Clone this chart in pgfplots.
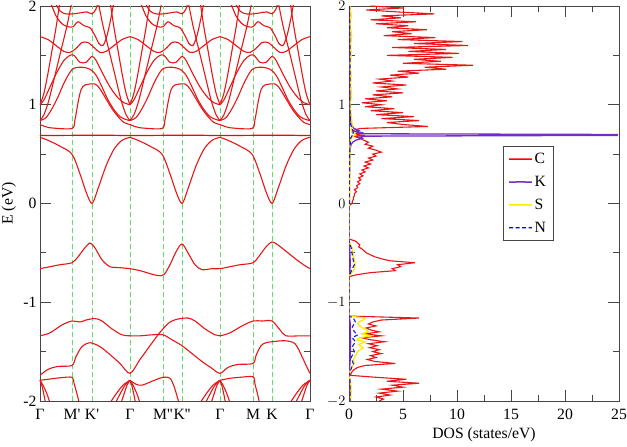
\documentclass[border=0pt]{standalone}
\usepackage{pgfplots}
\usepackage{pgfplotstable}
\pgfplotsset{compat=1.18}
\usepackage{fontspec}
\setmainfont{Liberation Serif}
\newfontfamily\lbl{Liberation Serif}
\definecolor{bandred}{RGB}{232,22,22}
\definecolor{kpurple}{RGB}{118,42,204}
\definecolor{syellow}{RGB}{255,236,0}
\definecolor{nblue}{RGB}{25,25,225}
\definecolor{gridgreen}{RGB}{95,222,95}
\definecolor{axgray}{RGB}{70,70,70}

% ---------- periodic conduction bands (one period: Gamma=0, M=32, K=52, Gamma=90)
\pgfplotstableread{
x y
0 0.688
30 0.690
60 0.692
90 0.688
}\cflat
\pgfplotstableread{
x y
0 0.67
8 0.64
20 0.58
32 0.50
40 0.30
46 0.12
52 0.00
58 0.15
66 0.38
74 0.55
82 0.64
90 0.67
}\cone
\pgfplotstableread{
x y
0 0.80
5 0.78
12 0.765
32 0.76
35 0.85
38 1.02
41 1.15
45 1.20
55 1.21
60 1.16
66 1.06
72 0.96
78 0.88
84 0.82
90 0.80
}\ctwo
\pgfplotstableread{
x y
0 0.84
6 0.87
12 0.96
18 1.08
24 1.22
30 1.33
34 1.37
42 1.38
50 1.36
56 1.30
62 1.18
68 1.05
74 0.95
80 0.88
86 0.85
90 0.84
}\cthree
\pgfplotstableread{
x y
0 1.00
4 1.05
10 1.18
17 1.33
24 1.45
30 1.50
34 1.50
40 1.43
46 1.43
52 1.49
56 1.45
62 1.33
70 1.18
78 1.07
84 1.02
90 1.00
}\cfour
\pgfplotstableread{
x y
0 1.00
4 1.12
8 1.32
12 1.55
16 1.78
20 2.05
}\cfiveR
\pgfplotstableread{
x y
70 2.05
74 1.78
78 1.55
82 1.32
86 1.12
90 1.00
}\cfiveL
\pgfplotstableread{
x y
0 1.69
8 1.66
16 1.60
24 1.54
30 1.53
36 1.57
42 1.63
48 1.63
54 1.58
60 1.53
66 1.54
74 1.60
82 1.66
90 1.69
}\csix
\pgfplotstableread{
x y
10 2.05
16 1.90
22 1.82
28 1.79
33 1.79
38 1.84
44 1.80
50 1.78
55 1.70
59 1.62
63 1.60
67 1.70
71 1.88
74 2.05
}\cseven
\pgfplotstableread{
x y
14 2.05
20 1.95
26 1.92
33 1.92
40 1.93
47 1.94
52 1.92
56 1.97
58 2.05
}\ceight
\pgfplotstableread{
x y
0 0.84
4 0.90
9 1.05
15 1.30
21 1.55
27 1.80
32 2.05
}\celevR
\pgfplotstableread{
x y
58 2.05
63 1.80
69 1.55
75 1.30
81 1.05
86 0.90
90 0.84
}\celevL
% fans below Gamma (relative x)
\pgfplotstableread{
x y
0 -1.79
-7 -1.84
-14 -1.93
-22 -2.05
}\fanLa
\pgfplotstableread{
x y
0 -1.79
-5 -1.84
-10 -1.93
-16 -2.05
}\fanLb
\pgfplotstableread{
x y
0 -1.79
-3 -1.84
-6 -1.93
-10 -2.05
}\fanLc
\pgfplotstableread{
x y
0 -1.79
2 -1.85
4 -1.94
6 -2.05
}\fanRa
\pgfplotstableread{
x y
0 -1.79
3 -1.84
7 -1.93
11 -2.05
}\fanRb

% ---------- DOS tables (E, D)
\pgfplotstableread{
E D
2.00 2.0
1.98 5.0
1.96 1.6
1.94 4.5
1.92 7.9
1.90 3.0
1.88 4.8
1.86 2.0
1.84 6.2
1.82 2.5
1.80 5.5
1.78 3.5
1.76 7.2
1.74 4.0
1.72 5.8
1.70 3.2
1.68 8.0
1.66 4.5
1.64 10.5
1.62 6.0
1.60 11.0
1.58 4.0
1.56 9.0
1.54 5.5
1.52 10.2
1.50 3.5
1.48 9.6
1.46 6.0
1.44 8.5
1.42 5.0
1.40 11.5
1.38 7.0
1.36 9.0
1.34 4.5
1.32 6.5
1.30 3.8
1.28 5.5
1.26 2.8
1.24 4.0
1.22 2.2
1.20 5.3
1.18 3.0
1.16 4.5
1.14 2.5
1.12 5.0
1.10 2.2
1.08 4.0
1.06 1.5
1.04 3.5
1.02 1.2
1.00 3.0
0.98 1.5
0.96 4.2
0.94 2.0
0.92 5.0
0.90 2.5
0.88 6.0
0.86 3.0
0.84 6.5
0.82 3.5
0.80 5.0
0.78 7.3
0.76 1.0
0.74 0.4
0.72 0.3
0.70 0.6
0.69 1.5
0.68 0.5
0.66 1.0
0.64 1.4
0.62 1.8
0.60 1.5
0.58 2.2
0.56 1.8
0.54 2.5
0.52 3.0
0.50 2.2
0.48 2.5
0.46 1.8
0.44 2.2
0.42 1.5
0.40 2.0
0.38 1.4
0.36 1.8
0.34 1.2
0.32 1.5
0.30 1.0
0.28 1.3
0.26 0.9
0.24 1.1
0.22 0.8
0.20 1.0
0.18 0.7
0.16 0.8
0.14 0.5
0.12 0.7
0.10 0.5
0.08 0.5
0.06 0.4
0.04 0.4
0.02 0.3
0.00 0.3
-0.02 0.0
-0.36 0.0
-0.38 0.6
-0.40 0.8
-0.42 1.0
-0.44 0.9
-0.46 1.2
-0.48 1.4
-0.50 1.6
-0.52 2.0
-0.54 2.4
-0.56 3.0
-0.58 3.8
-0.60 6.1
-0.62 4.5
-0.64 4.8
-0.66 4.0
-0.68 4.3
-0.70 2.0
-0.72 0.8
-0.74 0.0
-1.14 0.0
-1.16 6.5
-1.18 3.0
-1.20 2.2
-1.22 1.8
-1.24 2.5
-1.26 1.6
-1.28 2.0
-1.30 2.8
-1.32 1.5
-1.34 3.0
-1.36 1.2
-1.38 2.0
-1.40 3.3
-1.42 1.8
-1.44 2.6
-1.46 1.9
-1.48 2.8
-1.50 2.2
-1.52 3.0
-1.54 2.0
-1.56 2.5
-1.58 1.7
-1.60 2.4
-1.62 4.3
-1.64 1.5
-1.66 0.8
-1.68 0.5
-1.70 0.3
-1.72 0.2
-1.74 0.1
-1.76 2.5
-1.78 5.3
-1.80 3.5
-1.82 6.5
-1.84 4.0
-1.86 5.0
-1.88 3.0
-1.90 4.5
-1.92 2.8
-1.94 3.8
-1.96 2.5
-1.98 3.2
-2.00 2.8
}\dosC
\pgfplotstableread{
E D
2.00 0.05
1.60 0.08
1.20 0.06
1.00 0.10
0.90 0.12
0.80 0.20
0.76 0.45
0.74 0.90
0.73 0.60
0.72 1.10
0.71 0.70
0.706 1.60
0.699 24.9
0.693 12.0
0.690 24.9
0.682 1.5
0.67 0.9
0.66 1.2
0.64 0.6
0.62 0.35
0.60 0.2
0.55 0.1
0.40 0.06
0.00 0.04
-0.02 0.0
-0.38 0.0
-0.45 0.05
-0.60 0.12
-0.70 0.08
-0.74 0.0
-1.14 0.0
-1.20 0.1
-1.40 0.15
-1.60 0.1
-1.74 0.0
-1.80 0.1
-2.00 0.1
}\dosK
\pgfplotstableread{
E D
2.0 0.1
1.9 0.2
1.8 0.1
1.7 0.25
1.6 0.15
1.5 0.2
1.4 0.1
1.3 0.2
1.2 0.15
1.1 0.25
1.0 0.1
0.9 0.2
0.8 0.3
0.74 0.2
0.70 0.6
0.66 0.2
0.6 0.1
0.4 0.08
0.0 0.05
-0.02 0
-0.38 0
-0.45 0.3
-0.55 0.45
-0.62 0.6
-0.68 0.4
-0.74 0
-1.14 0
-1.16 1.5
-1.18 1.3
-1.20 0.9
-1.22 0.8
-1.25 1.1
-1.28 1.6
-1.30 1.8
-1.32 1.2
-1.34 2.0
-1.36 1.0
-1.38 0.7
-1.40 1.5
-1.43 0.9
-1.46 1.3
-1.50 0.8
-1.54 0.6
-1.58 0.4
-1.62 0.5
-1.66 0.2
-1.74 0
-1.80 0.15
-1.9 0.2
-2.0 0.15
}\dosS
\pgfplotstableread{
E D
2.0 0.05
1.5 0.1
1.0 0.08
0.8 0.15
0.72 0.4
0.69 0.3
0.66 0.15
0.5 0.05
0.0 0.03
-0.02 0
-0.38 0
-0.45 0.2
-0.55 0.35
-0.62 0.5
-0.66 0.3
-0.74 0
-1.14 0
-1.16 0.4
-1.20 0.6
-1.25 0.3
-1.30 0.5
-1.33 0.8
-1.36 0.3
-1.40 0.6
-1.45 0.3
-1.50 0.5
-1.56 0.2
-1.62 0.4
-1.70 0.1
-1.74 0
-1.80 0.1
-2.0 0.1
}\dosN

\pgfplotsset{
  band/.style={draw=bandred, line width=1.1pt, smooth, tension=0.5},
  kline/.style={draw=gridgreen, line width=0.8pt, dash pattern=on 5pt off 3pt},
  myaxis/.style={
    scale only axis, width=270pt, height=395pt,
    axis line style={draw=axgray, line width=0.9pt},
    major tick style={draw=axgray, line width=0.9pt},
    minor tick style={draw=axgray, line width=0.9pt},
    major tick length=11pt, minor tick length=6pt,
    tick align=inside, tick pos=both,
    ticklabel style={font=\fontsize{15.7}{18}\selectfont},
    xticklabel style={text height=1.6ex, yshift=-8pt},
    label style={font=\fontsize{15.7}{18}\selectfont},
  },
}

\begin{document}
\begin{tikzpicture}
\path[use as bounding box] (-40pt,-46pt) rectangle (587pt,401pt);
% ================= band structure
\begin{axis}[
  myaxis,
  at={(0pt,0pt)}, anchor=south west,
  xmin=0, xmax=270, ymin=-2, ymax=2,
  xtick={0,32,52,90,123,142,180,213,232,270},
  xticklabels={Γ,{\lbl M'},{\lbl K'},Γ,{\lbl M''},{\lbl K''},Γ,M,K,Γ},
  major x tick style={draw=none},
  ytick={-2,-1,0,1,2},
  yticklabels={-2,-1,0,1,2},
  minor ytick={-1.5,-0.5,0.5,1.5},
  ylabel={E (eV)},
  ylabel style={at={(axis description cs:-0.115,0.5)}, anchor=center},
]
\addplot[kline] coordinates {(32,-2) (32,2)};
\addplot[kline] coordinates {(52,-2) (52,2)};
\addplot[kline] coordinates {(90,-2) (90,2)};
\addplot[kline] coordinates {(123,-2) (123,2)};
\addplot[kline] coordinates {(142,-2) (142,2)};
\addplot[kline] coordinates {(180,-2) (180,2)};
\addplot[kline] coordinates {(213,-2) (213,2)};
\addplot[kline] coordinates {(232,-2) (232,2)};

\pgfplotsinvokeforeach{0,90,180}{
  \addplot[draw=red, line width=1.2pt] table[x expr=\thisrow{x}+#1, y=y] {\cflat};
  \addplot[band] table[x expr=\thisrow{x}+#1, y=y] {\cone};
  \addplot[band] table[x expr=\thisrow{x}+#1, y=y] {\ctwo};
  \addplot[band] table[x expr=\thisrow{x}+#1, y=y] {\cthree};
  \addplot[band] table[x expr=\thisrow{x}+#1, y=y] {\cfour};
  \addplot[band] table[x expr=\thisrow{x}+#1, y=y] {\cfiveR};
  \addplot[band] table[x expr=\thisrow{x}+#1, y=y] {\cfiveL};
  \addplot[band] table[x expr=\thisrow{x}+#1, y=y] {\csix};
  \addplot[band] table[x expr=\thisrow{x}+#1, y=y] {\cseven};
  \addplot[band] table[x expr=\thisrow{x}+#1, y=y] {\ceight};
  \addplot[band] table[x expr=\thisrow{x}+#1, y=y] {\celevR};
  \addplot[band] table[x expr=\thisrow{x}+#1, y=y] {\celevL};
}

% valence bands
\addplot[band] coordinates {(0,-0.66)(10,-0.64)(20,-0.62)(32,-0.60)(38,-0.54)(44,-0.46)(50,-0.40)(55,-0.45)(62,-0.57)(70,-0.64)(80,-0.65)(90,-0.66)(100,-0.68)(110,-0.71)(118,-0.73)(124,-0.72)(130,-0.62)(136,-0.49)(142,-0.41)(148,-0.50)(155,-0.62)(162,-0.67)(172,-0.66)(180,-0.66)(190,-0.64)(200,-0.62)(213,-0.60)(220,-0.52)(226,-0.44)(232,-0.39)(238,-0.42)(248,-0.50)(258,-0.58)(265,-0.63)(270,-0.66)};
\addplot[band] coordinates {(0,-1.34)(10,-1.31)(22,-1.23)(32,-1.19)(40,-1.20)(46,-1.18)(55,-1.165)(62,-1.19)(72,-1.27)(82,-1.33)(90,-1.34)(100,-1.34)(112,-1.33)(123,-1.33)(132,-1.38)(142,-1.44)(152,-1.52)(162,-1.60)(172,-1.67)(180,-1.72)(188,-1.66)(198,-1.63)(213,-1.62)(216,-1.54)(221,-1.44)(226,-1.41)(232,-1.40)(245,-1.39)(255,-1.42)(262,-1.55)(267,-1.66)(270,-1.72)};
\addplot[band] coordinates {(0,-1.74)(8,-1.68)(18,-1.65)(32,-1.64)(36,-1.55)(42,-1.45)(50,-1.41)(60,-1.45)(70,-1.53)(80,-1.62)(90,-1.72)(100,-1.58)(110,-1.44)(118,-1.33)(123,-1.27)(130,-1.20)(138,-1.17)(148,-1.16)(155,-1.19)(165,-1.27)(175,-1.33)(180,-1.34)(190,-1.31)(202,-1.24)(213,-1.19)(222,-1.19)(232,-1.19)(240,-1.28)(246,-1.34)(260,-1.34)(270,-1.34)};
\addplot[band] coordinates {(0,-1.79)(8,-1.78)(20,-1.765)(32,-1.76)(34,-1.82)(37,-1.93)(40,-2.05)};
\addplot[band] coordinates {(90,-1.79)(96,-1.83)(102,-1.84)(112,-1.80)(123,-1.76)(130,-1.77)(134,-1.85)(137,-1.95)(140,-2.05)};
\addplot[band] coordinates {(180,-1.79)(190,-1.77)(200,-1.76)(213,-1.755)(215,-1.83)(218,-1.95)(220,-2.05)};
\pgfplotsinvokeforeach{0,90,180,270}{
  \addplot[band] table[x expr=\thisrow{x}+#1, y=y] {\fanLa};
  \addplot[band] table[x expr=\thisrow{x}+#1, y=y] {\fanLb};
  \addplot[band] table[x expr=\thisrow{x}+#1, y=y] {\fanLc};
  \addplot[band] table[x expr=\thisrow{x}+#1, y=y] {\fanRa};
  \addplot[band] table[x expr=\thisrow{x}+#1, y=y] {\fanRb};
}
\end{axis}

% ================= DOS
\begin{axis}[
  myaxis,
  at={(309pt,0pt)}, anchor=south west,
  xmin=0, xmax=25, ymin=-2, ymax=2,
  xtick={0,5,10,15,20,25},
  xticklabels={0,5,10,15,20,25},
  minor xtick={2.5,7.5,12.5,17.5,22.5},
  ytick={-2,-1,0,1,2},
  yticklabel={},
  minor ytick={-1.5,-0.5,0.5,1.5},
  xlabel={DOS (states/eV)},
  xlabel style={yshift=-1pt},
  legend style={at={(0.57,0.646)}, anchor=north west, draw=axgray, line width=0.8pt,
    font=\fontsize{15.7}{18}\selectfont, inner xsep=5pt, inner ysep=5pt,
    row sep=7pt, cells={anchor=west}},
  legend image code/.code={\draw[#1] (0cm,0cm) -- (0.4cm,0.001cm) -- (0.8cm,0cm);},
]
\addlegendimage{draw=red, line width=1.4pt}
\addlegendentry{C}
\addlegendimage{draw=kpurple, line width=1.5pt}
\addlegendentry{K}
\addlegendimage{draw=syellow, line width=1.4pt}
\addlegendentry{S}
\addlegendimage{draw=blue, line width=1.3pt, dash pattern=on 4pt off 2.5pt}
\addlegendentry{N}
\addplot[draw=bandred, line width=1.1pt, forget plot] table[x=D, y=E] {\dosC};
\addplot[draw=kpurple, line width=1.3pt, forget plot, clip=false] table[x=D, y=E] {\dosK};
\addplot[draw=syellow, line width=1.3pt, forget plot] table[x=D, y=E] {\dosS};
\addplot[draw=nblue, line width=1.1pt, dash pattern=on 4pt off 2.5pt, forget plot] table[x=D, y=E] {\dosN};
\end{axis}
\end{tikzpicture}
\end{document}
